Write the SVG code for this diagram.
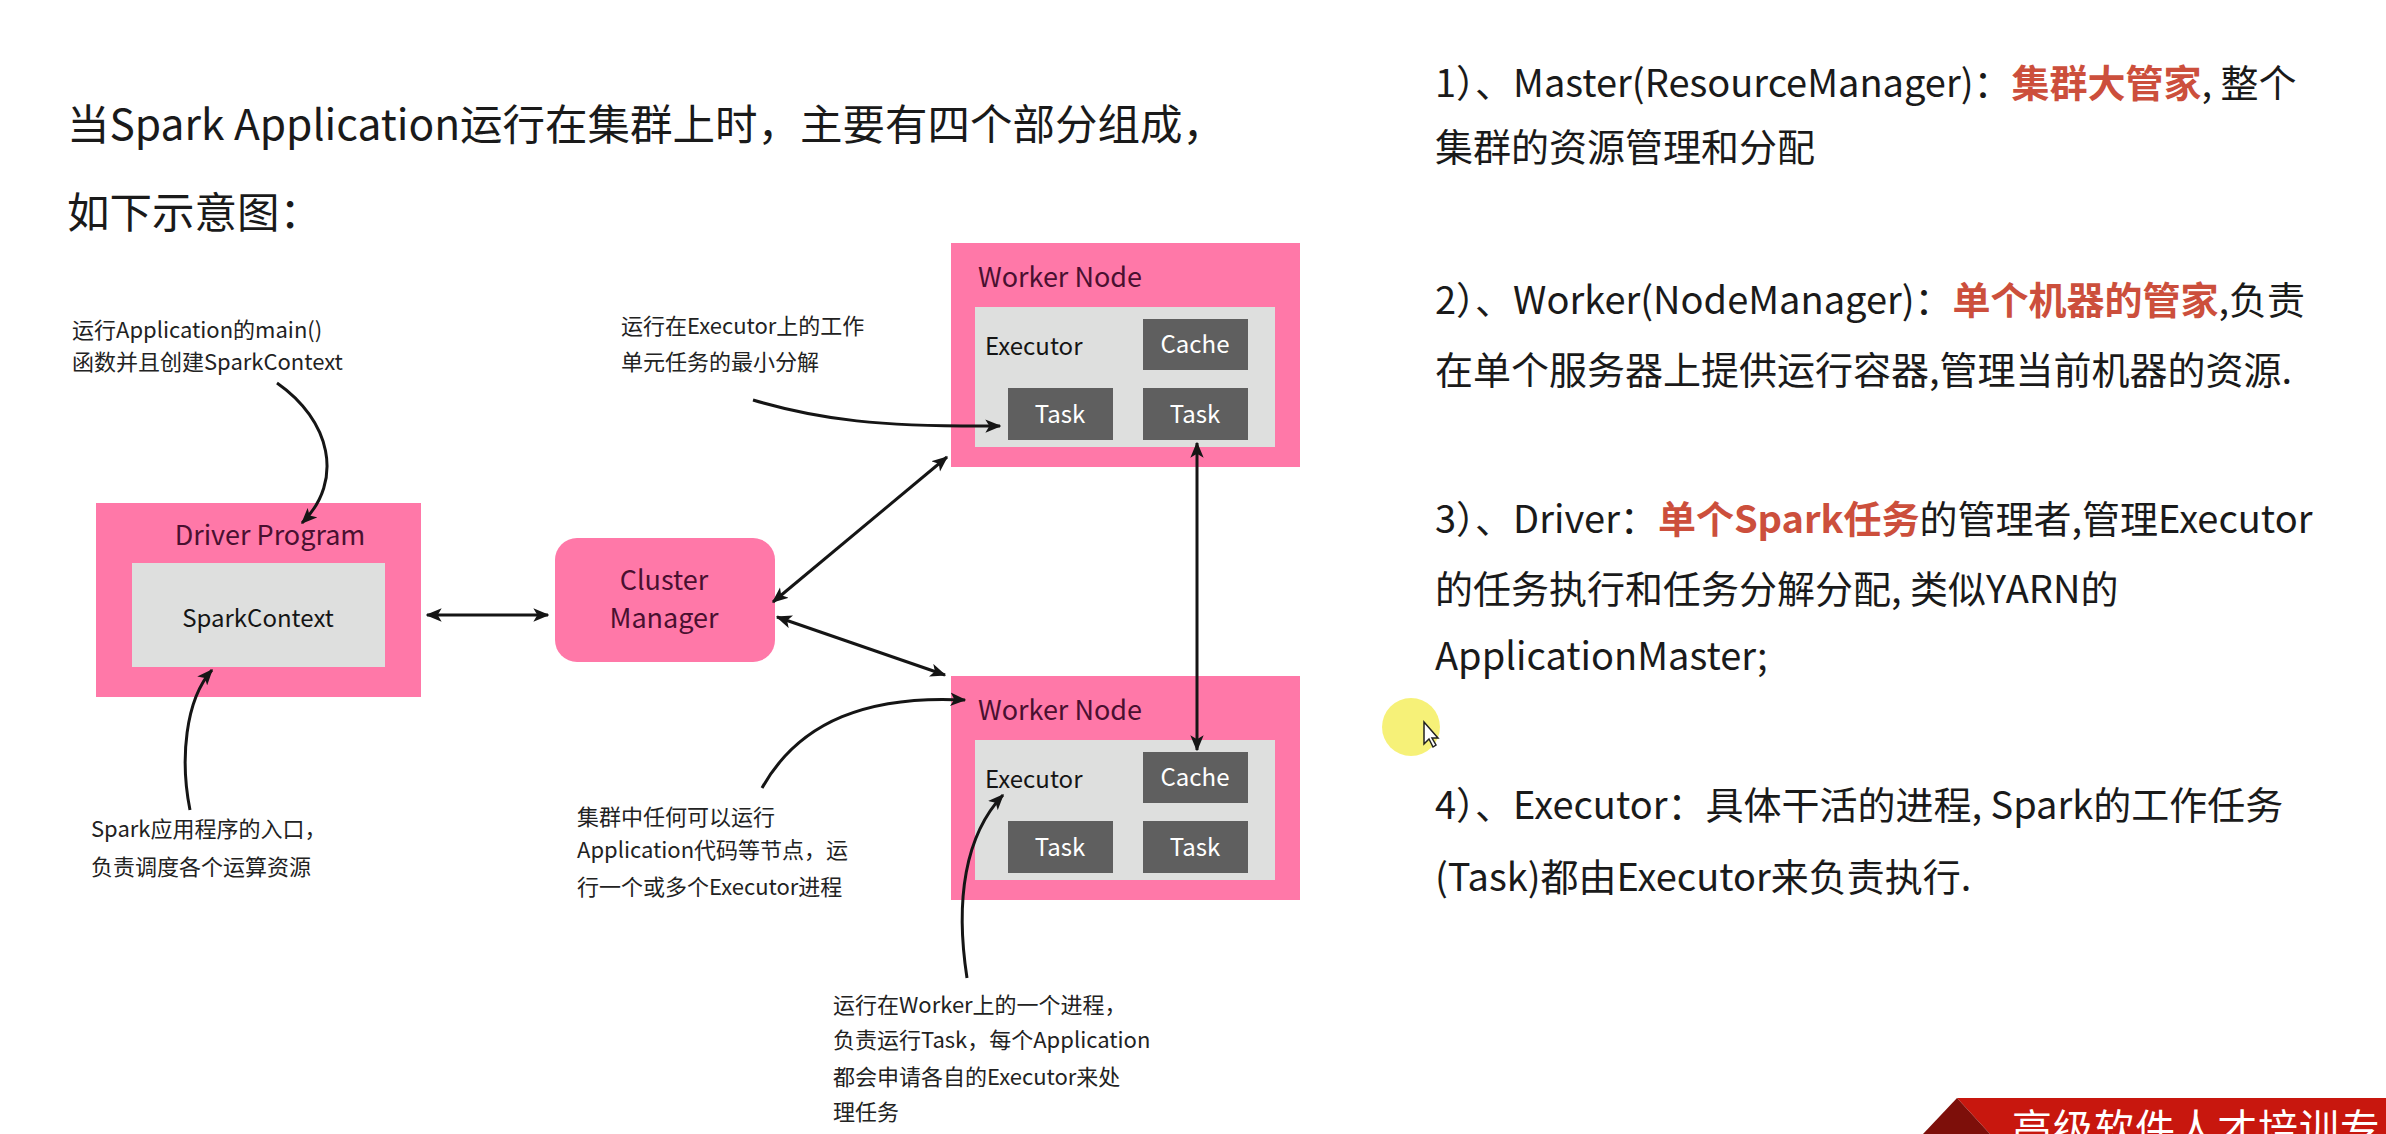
<svg xmlns="http://www.w3.org/2000/svg" width="2386" height="1134" viewBox="0 0 2386 1134">
<defs>
<style>
.ttl{font-family:"Noto Sans CJK SC","Noto Sans",sans-serif;font-size:42.5px;fill:#1a1a1a}
.rt{font-family:"Noto Sans CJK SC","Noto Sans",sans-serif;font-size:38px;fill:#1a1a1a}
.hl{fill:#cc4f3c;font-weight:bold}
.ann{font-family:"Noto Sans CJK SC","Noto Sans",sans-serif;font-size:22px;fill:#222}
.pink{fill:#ff78a8}
.inner{fill:#dedfde}
.dark{fill:#5f5f5f}
.hd{font-family:"Noto Sans CJK SC","Noto Sans",sans-serif;font-size:27px;fill:#4a1030}
.lb{font-family:"Noto Sans CJK SC","Noto Sans",sans-serif;font-size:24px;fill:#151515}
.wl{font-family:"Noto Sans CJK SC","Noto Sans",sans-serif;font-size:24px;fill:#ffffff;text-anchor:middle}
.cn{fill:none;stroke:#151515;stroke-width:3}
</style>
<marker id="ah" viewBox="0 0 12 10" refX="11" refY="5" markerWidth="16" markerHeight="14" markerUnits="userSpaceOnUse" orient="auto-start-reverse">
<path d="M0,0 L12,5 L0,10 L3,5 z" fill="#151515"/>
</marker>
</defs>
<rect x="0" y="0" width="2386" height="1134" fill="#ffffff"/>

<g id="title">
<text class="ttl" x="67" y="140">当Spark Application运行在集群上时，主要有四个部分组成，</text>
<text class="ttl" x="67" y="228">如下示意图：</text>
</g>

<g id="driver">
<rect class="pink" x="96" y="503" width="325" height="194"/>
<rect class="inner" x="132" y="563" width="253" height="104"/>
<text class="hd" x="270" y="545" text-anchor="middle" font-size="29">Driver Program</text>
<text class="lb" x="258" y="627" text-anchor="middle">SparkContext</text>
</g>

<g id="cluster-manager">
<rect class="pink" x="555" y="538" width="220" height="124" rx="22"/>
<text class="hd" x="664" y="590" text-anchor="middle">Cluster</text>
<text class="hd" x="664" y="628" text-anchor="middle">Manager</text>
</g>

<g id="worker1">
<rect class="pink" x="951" y="243" width="349" height="224"/>
<rect class="inner" x="975" y="307" width="300" height="140"/>
<text class="hd" x="978" y="287">Worker Node</text>
<text class="lb" x="985" y="355">Executor</text>
<rect class="dark" x="1143" y="319" width="105" height="51"/>
<text class="wl" x="1195" y="353">Cache</text>
<rect class="dark" x="1008" y="388" width="105" height="52"/>
<text class="wl" x="1060" y="423">Task</text>
<rect class="dark" x="1143" y="388" width="105" height="52"/>
<text class="wl" x="1195" y="423">Task</text>
</g>

<g id="worker2">
<rect class="pink" x="951" y="676" width="349" height="224"/>
<rect class="inner" x="975" y="740" width="300" height="140"/>
<text class="hd" x="978" y="720">Worker Node</text>
<text class="lb" x="985" y="788">Executor</text>
<rect class="dark" x="1143" y="752" width="105" height="51"/>
<text class="wl" x="1195" y="786">Cache</text>
<rect class="dark" x="1008" y="821" width="105" height="52"/>
<text class="wl" x="1060" y="856">Task</text>
<rect class="dark" x="1143" y="821" width="105" height="52"/>
<text class="wl" x="1195" y="856">Task</text>
</g>

<g id="connectors">
<line class="cn" x1="427" y1="615" x2="548" y2="615" marker-start="url(#ah)" marker-end="url(#ah)"/>
<line class="cn" x1="773" y1="602" x2="947" y2="457" marker-start="url(#ah)" marker-end="url(#ah)"/>
<line class="cn" x1="777" y1="617" x2="945" y2="675" marker-start="url(#ah)" marker-end="url(#ah)"/>
<line class="cn" x1="1197" y1="443" x2="1197" y2="750" marker-start="url(#ah)" marker-end="url(#ah)"/>
<path class="cn" d="M277,383 C330,420 345,480 302,523" marker-end="url(#ah)"/>
<path class="cn" d="M190,810 C180,760 185,700 212,670" marker-end="url(#ah)"/>
<path class="cn" d="M753,400 C820,420 880,427 1000,426" marker-end="url(#ah)"/>
<path class="cn" d="M762,788 C800,720 870,695 965,700" marker-end="url(#ah)"/>
<path class="cn" d="M967,978 C955,900 965,835 1003,795" marker-end="url(#ah)"/>
</g>

<g id="annotations">
<text class="ann" x="72" y="338">运行Application的main()</text>
<text class="ann" x="72" y="370">函数并且创建SparkContext</text>
<text class="ann" x="91" y="837">Spark应用程序的入口，</text>
<text class="ann" x="91" y="875">负责调度各个运算资源</text>
<text class="ann" x="621" y="334">运行在Executor上的工作</text>
<text class="ann" x="621" y="370">单元任务的最小分解</text>
<text class="ann" x="577" y="825">集群中任何可以运行</text>
<text class="ann" x="577" y="858">Application代码等节点，运</text>
<text class="ann" x="577" y="895">行一个或多个Executor进程</text>
<text class="ann" x="833" y="1013">运行在Worker上的一个进程，</text>
<text class="ann" x="833" y="1048">负责运行Task，每个Application</text>
<text class="ann" x="833" y="1085">都会申请各自的Executor来处</text>
<text class="ann" x="833" y="1120">理任务</text>
</g>

<g id="explanations">
<text class="rt" x="1435" y="97">1）、Master(ResourceManager)：<tspan class="hl">集群大管家</tspan>, 整个</text>
<text class="rt" x="1435" y="161">集群的资源管理和分配</text>
<text class="rt" x="1435" y="314">2）、Worker(NodeManager)：<tspan class="hl">单个机器的管家</tspan>,负责</text>
<text class="rt" x="1435" y="384">在单个服务器上提供运行容器,管理当前机器的资源.</text>
<text class="rt" x="1435" y="533">3）、Driver：<tspan class="hl">单个Spark任务</tspan>的管理者,管理Executor</text>
<text class="rt" x="1435" y="603">的任务执行和任务分解分配, 类似YARN的</text>
<text class="rt" x="1435" y="670">ApplicationMaster;</text>
<text class="rt" x="1435" y="819">4）、Executor：具体干活的进程, Spark的工作任务</text>
<text class="rt" x="1435" y="891">(Task)都由Executor来负责执行.</text>
</g>

<g id="cursor">
<circle cx="1411" cy="727" r="29" fill="#f5ef60" opacity="0.85"/>
<path d="M1424,722 L1424,744 L1429,739 L1433,747 L1436,745 L1432,738 L1438,738 z" fill="#ffffff" stroke="#222" stroke-width="1.5"/>
</g>

<g id="banner">
<polygon points="1957,1098 2386,1098 2386,1134 1990,1134" fill="#c8170e"/>
<polygon points="1957,1098 1990,1134 1923,1134" fill="#7d0f0a"/>
<text x="2012" y="1143" font-family="Noto Sans CJK SC, sans-serif" font-size="40" fill="#ffffff" letter-spacing="1">高级软件人才培训专</text>
</g>
</svg>
